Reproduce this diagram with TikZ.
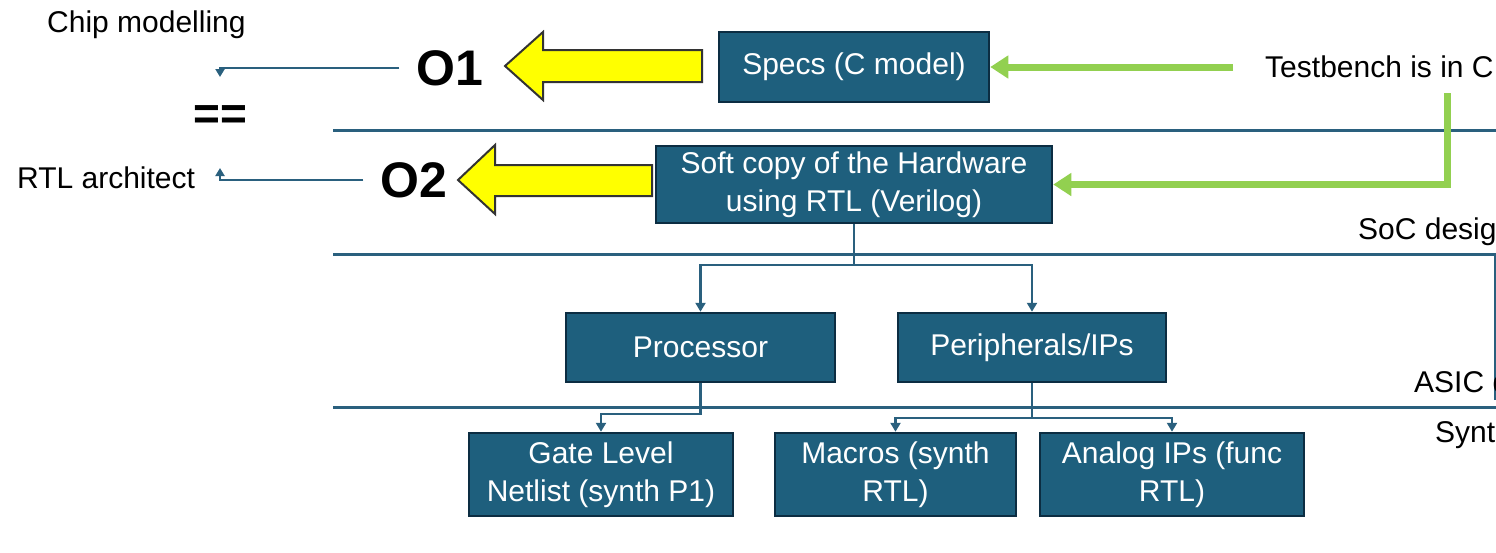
\documentclass[tikz,border=0pt]{standalone}
\usepackage{xcolor}
\usepackage{fontspec}
\setmainfont{Liberation Sans}
\usepackage{tikz}
\usetikzlibrary{calc,arrows.meta,positioning}
\definecolor{boxColor}{RGB}{30, 95, 125}
\definecolor{boxEdge}{RGB}{12, 45, 66}
\definecolor{ruleColor}{RGB}{42, 96, 126}
\definecolor{tbColor}{RGB}{146, 208, 80}
\definecolor{arrowYellow}{RGB}{255, 255, 0}
\tikzset{
    block/.style={draw=boxEdge, line width=2.5pt, fill=boxColor, text=white, align=center,
        inner sep=0pt, font=\fontsize{30}{38}\selectfont},
    link/.style={draw=ruleColor, line width=2.5pt, -{Triangle[width=10pt,length=9pt]}},
    tbline/.style={draw=tbColor, line width=7pt},
    rule/.style={draw=ruleColor, line width=3pt},
    label/.style={font=\fontsize{30}{36}\selectfont, inner sep=0pt},
    bigmark/.style={font=\fontsize{50}{54}\selectfont\bfseries, inner sep=0pt},
    yblock/.style={fill=arrowYellow, draw=black!80, line width=2pt, line join=miter}
}
\begin{document}
\begin{tikzpicture}[x=1pt, y=-1pt]
            \useasboundingbox (0,0) rectangle (1496,552);
            \clip (0,0) rectangle (1496,552);

            % Level rules
            \draw[rule] (333,130) -- (1496,130);
            \draw[rule] (333,254) -- (1496,254);
            \draw[rule] (333,407) -- (1496,407);
            \draw[rule] (1495,254) -- (1495,400);

            % Blocks
            \node[block, minimum width=270, minimum height=70] (specs) at (854,67) {Specs (C model)};
            \node[block, minimum width=396, minimum height=77] (soft) at (854,184.5) {Soft copy of the Hardware\\using RTL (Verilog)};
            \node[block, minimum width=269, minimum height=69] (proc) at (700.5,347.5) {Processor};
            \node[block, minimum width=268, minimum height=69] (peri) at (1032,347.5) {Peripherals/IPs};
            \node[block, minimum width=264, minimum height=83] (gate) at (601,474.5) {Gate Level\\Netlist (synth P1)};
            \node[block, minimum width=241, minimum height=83] (macros) at (895.5,474.5) {Macros (synth\\RTL)};
            \node[block, minimum width=264, minimum height=83] (analog) at (1172,474.5) {Analog IPs (func\\RTL)};

            % Side labels
            \node[label, anchor=west] (chip) at (47,25) {Chip modelling};
            \node[label, anchor=west] (rtlarch) at (17,178) {RTL architect};
            \node[font=\fontsize{46}{50}\selectfont\bfseries, inner sep=0pt] (eqs) at (220,118) {==};
            \node[bigmark] (o1) at (450,68) {O1};
            \node[bigmark] (o2) at (414,180) {O2};
            \node[label, anchor=west] (tb) at (1265,67) {Testbench is in C};
            \node[label, anchor=west] (soc) at (1358,232) {SoC desig};
            \node[label, anchor=west] (asic) at (1414,382) {ASIC d};
            \node[label, anchor=west] (synt) at (1435,435) {Synt};

            % Yellow output arrows
            \draw[yblock] (702,50) -- (543,50) -- (543,32) -- (505,66) -- (543,100) -- (543,82) -- (702,82) -- cycle;
            \draw[yblock] (652,165) -- (495,165) -- (495,145) -- (458,180) -- (495,214) -- (495,196) -- (652,196) -- cycle;

            % Outputs towards the roles
            \coordinate (c1) at (220,77);
            \coordinate (c2) at (220,168);
            \draw[link, line width=2pt, -{Triangle[width=9pt,length=8pt]}] ([xshift=-17pt]o1.west) -| (c1);
            \draw[link, line width=2pt, -{Triangle[width=9pt,length=8pt]}] ([xshift=-17pt]o2.west) -| (c2);

            % Testbench feeds
            \coordinate (tbend) at (1233,67);
            \coordinate (tbdrop) at (1447,93);
            \draw[tbline, -{Triangle[width=22pt,length=18pt]}] (tbend) -- (specs.east);
            \draw[tbline, -{Triangle[width=22pt,length=18pt]}] (tbdrop) |- (soft.east);

            % Hierarchy connectors
            \coordinate (split1) at (854,265);
            \coordinate (split2) at (700.5,414);
            \coordinate (split3) at (1032,418);
            \draw[link] (soft.south) -- (split1) -| (proc.north);
            \draw[link] (split1) -| (peri.north);
            \draw[link] (proc.south) -- (split2) -| (gate.north);
            \draw[link] (peri.south) -- (split3) -| (macros.north);
            \draw[link] (split3) -| (analog.north);
        \end{tikzpicture}
\end{document}
